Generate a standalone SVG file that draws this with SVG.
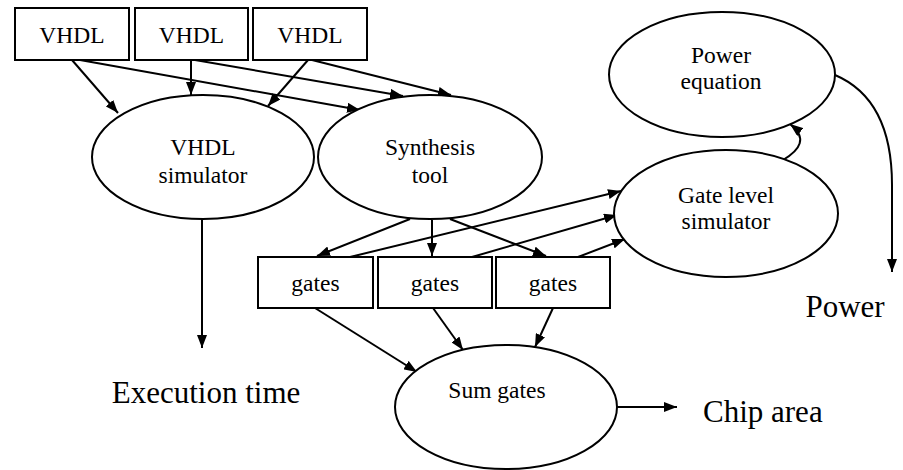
<svg xmlns="http://www.w3.org/2000/svg" width="903" height="470" viewBox="0 0 903 470">
<style>
.box{fill:#fff;stroke:#000;stroke-width:2}
.ell{fill:#fff;stroke:#000;stroke-width:2}
text{font-family:"Liberation Serif","Times New Roman","DejaVu Serif",serif;fill:#000}
.t{font-size:23.5px;text-anchor:middle}
.lbl{font-size:31px}
.c{fill:none;stroke:#000;stroke-width:2;marker-end:url(#ah)}
</style>
<defs>
<marker id="ah" viewBox="0 0 13 10" refX="13" refY="5" markerWidth="13" markerHeight="10" markerUnits="userSpaceOnUse" orient="auto">
<path d="M0,0 L13,5 L0,10 z" fill="#000"/>
</marker>
</defs>
<rect width="903" height="470" fill="#fff"/>
<g id="connectors">
<path class="c" d="M72,60 L118,113"/>
<path class="c" d="M80,60 L360,110"/>
<path class="c" d="M191,60 L191,95"/>
<path class="c" d="M195,60 L403,96"/>
<path class="c" d="M308,60 L268,106"/>
<path class="c" d="M312,60 L451,95"/>
<path class="c" d="M202,220 L202,348"/>
<path class="c" d="M410,219 L317,256"/>
<path class="c" d="M432,220 L432,256"/>
<path class="c" d="M450,219 L546,256"/>
<path class="c" d="M350,257 L621,191"/>
<path class="c" d="M472,257 L617,215"/>
<path class="c" d="M578,257 L625,239"/>
<path class="c" d="M315,308 L417,372"/>
<path class="c" d="M433,308 L463,350"/>
<path class="c" d="M553,308 L535,347"/>
<path class="c" d="M617,407 L677,407"/>
<path class="c" d="M783,160 C800,150 808,138 790,124"/>
<path class="c" d="M835,75 C875,92 892,130 892,185 L892,272"/>
</g>
<g id="vhdl1"><rect class="box" x="15" y="8" width="114" height="52"/><text class="t" x="72" y="42.5">VHDL</text></g>
<g id="vhdl2"><rect class="box" x="135" y="8" width="113" height="52"/><text class="t" x="191.5" y="42.5">VHDL</text></g>
<g id="vhdl3"><rect class="box" x="253" y="8" width="114" height="52"/><text class="t" x="310" y="42.5">VHDL</text></g>
<g id="vhdl_sim"><ellipse class="ell" cx="203" cy="157" rx="111" ry="62"/><text class="t" x="203" y="155">VHDL</text><text class="t" x="203" y="183">simulator</text></g>
<g id="synth"><ellipse class="ell" cx="430" cy="157" rx="112" ry="62"/><text class="t" x="430" y="155">Synthesis</text><text class="t" x="430" y="183">tool</text></g>
<g id="power_eq"><ellipse class="ell" cx="722" cy="74.5" rx="113" ry="62.5"/><text class="t" x="721" y="63">Power</text><text class="t" x="721" y="89">equation</text></g>
<g id="gate_sim"><ellipse class="ell" cx="726" cy="213.5" rx="112" ry="63.5"/><text class="t" x="726" y="203">Gate level</text><text class="t" x="726" y="229">simulator</text></g>
<g id="gates1"><rect class="box" x="258" y="257" width="115" height="51"/><text class="t" x="315.5" y="291">gates</text></g>
<g id="gates2"><rect class="box" x="378" y="257" width="114" height="51"/><text class="t" x="435" y="291">gates</text></g>
<g id="gates3"><rect class="box" x="496" y="257" width="114" height="51"/><text class="t" x="553" y="291">gates</text></g>
<g id="sum_gates"><ellipse class="ell" cx="506" cy="407" rx="111" ry="62"/><text class="t" x="497" y="398">Sum gates</text></g>
<g id="exec_time"><text class="lbl" x="206" y="403" text-anchor="middle">Execution time</text></g>
<g id="power"><text class="lbl" x="845" y="317" text-anchor="middle">Power</text></g>
<g id="chip_area"><text class="lbl" x="703" y="422">Chip area</text></g>
</svg>
